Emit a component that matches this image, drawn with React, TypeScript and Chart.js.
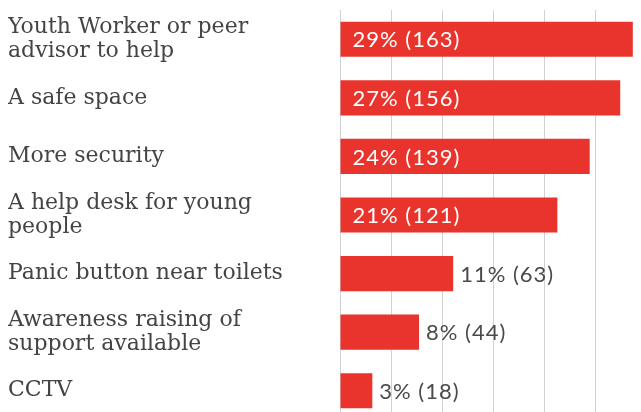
import React, { useEffect, useRef } from "react";
import { Chart, registerables } from "chart.js";

Chart.register(...registerables);

const categories: (string | string[])[] = [
  ["Youth Worker or peer", "advisor to help"],
  "A safe space",
  "More security",
  ["A help desk for young", "people"],
  "Panic button near toilets",
  ["Awareness raising of", "support available"],
  "CCTV",
];
const counts = [163, 156, 139, 121, 63, 44, 18];
const percentLabels = ["29%", "27%", "24%", "21%", "11%", "8%", "3%"];
const TOTAL_RESPONDENTS = 568;
const shares = counts.map((c) => (c / TOTAL_RESPONDENTS) * 100);

const BAR_COLOR = "#E8342C";
const LABEL_FONT = '"DejaVu Serif", serif';
const VALUE_FONT = 'Lato, "Open Sans", sans-serif';

const valueLabelPlugin = {
  id: "valueLabels",
  afterDatasetsDraw(chart: any) {
    const ctx = chart.ctx;
    const meta = chart.getDatasetMeta(0);
    ctx.save();
    ctx.font = `22px ${VALUE_FONT}`;
    try {
      (ctx as any).letterSpacing = "1px";
    } catch (e) {}
    ctx.textBaseline = "middle";
    ctx.textAlign = "left";
    meta.data.forEach((bar: any, i: number) => {
      const text = `${percentLabels[i]} (${counts[i]})`;
      const w = ctx.measureText(text).width;
      const barW = bar.x - bar.base;
      if (barW > w * 1.5 + 24) {
        ctx.fillStyle = "#ffffff";
        ctx.fillText(text, bar.base + 12, bar.y + 1);
      } else {
        ctx.fillStyle = "#4a4a4a";
        ctx.fillText(text, bar.x + 7, bar.y + 1);
      }
    });
    ctx.restore();
  },
};

export default function App() {
  const ref = useRef<HTMLCanvasElement | null>(null);
  useEffect(() => {
    if (!ref.current) return;
    const chart = new Chart(ref.current, {
      type: "bar",
      data: {
        labels: categories,
        datasets: [
          {
            data: shares,
            backgroundColor: BAR_COLOR,
            borderWidth: 0,
            barPercentage: 0.6,
            categoryPercentage: 1,
          },
        ],
      },
      options: {
        indexAxis: "y",
        responsive: false,
        animation: false,
        layout: { padding: { left: 8, top: 10, right: 0, bottom: 0 } },
        plugins: {
          legend: { display: false },
          tooltip: { enabled: false },
        },
        scales: {
          x: {
            min: 0,
            max: 29.5,
            grid: { color: "#d2d2d2", lineWidth: 1, drawTicks: false },
            border: { display: false },
            ticks: { display: false, stepSize: 5, includeBounds: false },
            afterFit(scale: any) {
              scale.height = 0;
              scale.paddingLeft = 0;
              scale.paddingRight = 0;
            },
          },
          y: {
            grid: { display: false },
            border: { display: false },
            afterFit(scale: any) {
              scale.width = 332;
              scale.paddingTop = 0;
              scale.paddingBottom = 0;
            },
            ticks: {
              crossAlign: "far",
              color: "#444444",
              font: { family: LABEL_FONT, size: 22, lineHeight: 1.1 },
              autoSkip: false,
            },
          },
        },
      },
      plugins: [valueLabelPlugin],
    });
    return () => chart.destroy();
  }, []);
  return (
    <div style={{ position: "fixed", left: 0, top: 0, width: 641, height: 412, overflow: "hidden", background: "#fff" }}>
      <canvas ref={ref} width={641} height={420} />
    </div>
  );
}
